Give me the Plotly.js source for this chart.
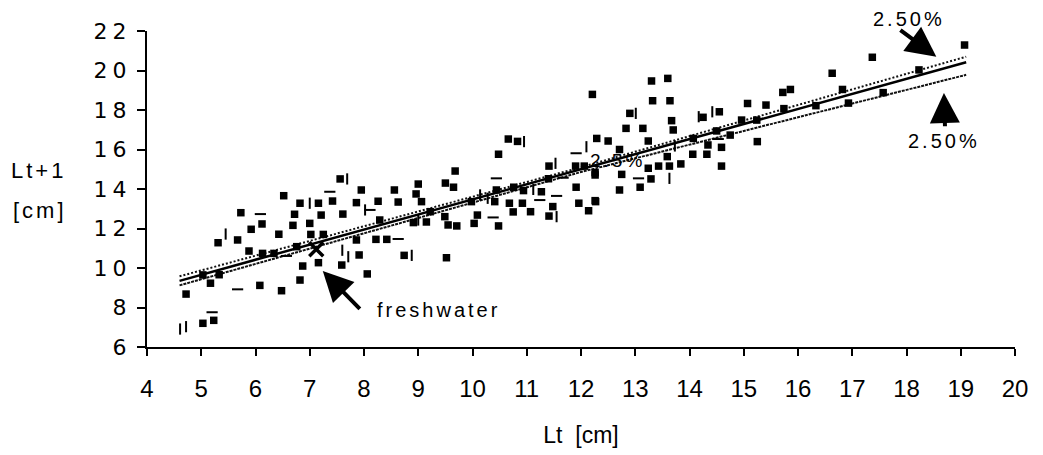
<!DOCTYPE html>
<html>
<head>
<meta charset="utf-8">
<script src="https://cdn.plot.ly/plotly-3.0.1.min.js"></script>
<style>
  html, body { margin: 0; padding: 0; background: #fff; }
  #chart { width: 1043px; height: 455px; }
  .ytick text { letter-spacing: 5px; }
  .annotation-text { letter-spacing: 3px; }
</style>
</head>
<body>
<div id="chart"></div>
<script>
// ---- data ----
const squareX = [6.52,5.73,6.12,5.92,5.31,5.67,5.88,6.13,6.34,6.43,6.69,6.72,5.03,5.33,5.17,4.72,6.08,6.48,5.03,5.23,6.76,
  7.56,9.00,7.95,8.56,8.96,7.42,7.16,6.82,7.86,8.26,8.63,9.06,7.21,7.61,8.29,9.15,7.00,7.02,7.25,7.86,8.22,8.42,7.91,8.74,9.52,6.87,6.82,8.06,
  10.66,10.83,10.48,9.68,11.41,11.90,12.06,12.26,11.40,9.65,10.44,10.76,10.94,11.27,11.91,9.98,10.41,10.68,10.92,11.96,12.26,11.07,11.48,10.75,10.09,9.49,9.71,10.03,10.48,11.41,12.14,
  13.30,13.60,13.32,13.64,12.21,12.90,15.07,12.83,13.14,13.67,13.70,14.25,14.55,14.96,12.29,12.50,13.24,14.07,14.50,14.75,12.71,14.34,14.59,14.06,14.32,13.59,13.84,13.43,13.63,14.59,13.24,12.75,13.29,12.26,12.71,13.09,12.27,
  17.37,16.63,16.82,15.72,15.86,15.41,15.74,16.33,16.93,17.57,15.24,15.25,19.07,18.23,9.50,9.22,9.55,8.91,7.16,7.59];
const squareY = [13.66,12.80,12.23,11.96,11.28,11.42,10.86,10.74,10.74,11.71,12.16,12.72,9.65,9.66,9.23,8.68,9.12,8.85,7.20,7.35,11.08,
  14.51,14.25,13.95,13.95,13.75,13.39,13.28,13.28,13.31,13.38,13.34,13.36,12.68,12.73,12.43,12.33,12.26,11.70,11.70,11.42,11.45,11.45,10.66,10.64,10.52,10.10,9.39,9.70,
  16.53,16.41,15.76,14.91,15.16,15.16,15.16,14.83,14.52,14.09,13.95,14.09,13.92,13.86,14.09,13.36,13.36,13.28,13.28,13.28,13.41,12.85,13.11,12.84,12.68,12.60,12.13,12.26,12.13,12.63,12.90,
  19.47,19.60,18.47,18.47,18.79,17.83,18.33,17.07,17.07,17.46,16.99,17.63,17.91,17.49,16.56,16.43,16.43,16.56,16.94,16.73,16.00,16.23,16.11,15.76,15.76,15.64,15.27,15.16,15.16,15.16,15.05,14.74,14.51,14.71,13.95,14.09,13.36,
  20.67,19.86,19.04,18.89,19.04,18.25,18.07,18.22,18.35,18.88,17.49,16.40,21.29,20.03,14.30,12.85,12.18,12.30,10.27,10.15];

const tickMarkX = [4.61,4.72,5.45,7.69,8.88,7.71,10.95,11.53,11.55,12.10,11.12,10.14,10.28,13.01,13.63,14.42,13.73,14.17,7.00,8.02,9.00,7.60];
const tickMarkY = [6.91,7.03,11.72,14.51,10.64,10.57,16.40,15.30,12.60,16.14,13.98,13.70,13.53,17.83,14.54,17.91,16.18,17.66,13.28,12.94,12.43,10.90];

const dashMarkX = [5.20,6.09,5.67,6.57,7.37,8.11,8.63,10.44,11.67,11.24,11.91,10.38,11.55,13.06,14.53];
const dashMarkY = [7.76,12.73,8.92,10.61,13.86,12.94,11.47,14.54,14.57,13.44,15.81,12.56,13.65,14.54,16.53];

const freshX = [7.12];
const freshY = [10.95];

const fitX = [4.6, 12.0, 19.1];
const fitY = [9.35, 15.0, 20.42];
const upperY = [9.58, 15.1, 20.70];
const lowerY = [9.12, 14.86, 19.78];

const xTickVals = [4,5,6,7,8,9,10,11,12,13,14,15,16,17,18,19,20];
const xTickText = ["4","5","6","7","8","9","10","11","12","13","14","15","16","17","18","19","20"];
const yTickVals = [6,8,10,12,14,16,18,20,22];
const yTickText = ["6","8","10","12","14","16","18","20","22"];

const traces = [
  {x: fitX, y: upperY, mode: 'lines', line: {color: '#111', width: 2, dash: '2px,2px'}, hoverinfo: 'skip'},
  {x: fitX, y: lowerY, mode: 'lines', line: {color: '#111', width: 2, dash: '3px,1px'}, hoverinfo: 'skip'},
  {x: fitX, y: fitY, mode: 'lines', line: {color: '#000', width: 2.5}, hoverinfo: 'skip'},
  {x: squareX, y: squareY, mode: 'markers', marker: {symbol: 'square', size: 7.5, color: '#000'}},
  {x: tickMarkX, y: tickMarkY, mode: 'markers', marker: {symbol: 'line-ns', size: 8, line: {color: '#000', width: 2}}},
  {x: dashMarkX, y: dashMarkY, mode: 'markers', marker: {symbol: 'line-ew', size: 8, line: {color: '#000', width: 2}}},
  {x: freshX, y: freshY, mode: 'markers', marker: {symbol: 'x-thin', size: 14, line: {color: '#000', width: 3.5}}}
];

const narrow = 'Liberation Sans Narrow, Liberation Sans, Arial, sans-serif';
const sans = 'Liberation Sans, Arial, sans-serif';
const labelFont = {family: sans, size: 20, color: '#000'};

const layout = {
  width: 1043, height: 455,
  margin: {l: 147, r: 28, t: 31, b: 108},
  paper_bgcolor: '#fff', plot_bgcolor: '#fff',
  showlegend: false,
  xaxis: {
    range: [4, 20], tickmode: 'array', tickvals: xTickVals, ticktext: xTickText,
    ticks: 'outside', ticklen: 7, tickwidth: 2, tickcolor: '#000',
    showline: true, linewidth: 2, linecolor: '#000', showgrid: false, zeroline: false,
    tickfont: {family: narrow, size: 24, color: '#000'}, ticklabelstandoff: 12, fixedrange: true,
    title: {text: 'Lt  [cm]', font: {family: narrow, size: 23, color: '#000'}, standoff: 26}
  },
  xaxis2: {
    range: [4, 20], overlaying: 'x', anchor: 'y', side: 'bottom', tickmode: 'array', tickvals: xTickVals,
    ticks: 'inside', ticklen: 7, tickwidth: 2, tickcolor: '#000',
    showticklabels: false, showline: false, showgrid: false, zeroline: false
  },
  yaxis: {
    range: [6, 22], tickmode: 'array', tickvals: yTickVals, ticktext: yTickText,
    ticks: 'outside', ticklen: 8, tickwidth: 2, tickcolor: '#000',
    showline: true, linewidth: 2, linecolor: '#000', showgrid: false, zeroline: false,
    tickfont: {family: 'DejaVu Sans, sans-serif', size: 22, color: '#000'}, ticklabelstandoff: 1, fixedrange: true
  },
  yaxis2: {
    range: [6, 22], overlaying: 'y', anchor: 'x', side: 'left', tickmode: 'array', tickvals: yTickVals,
    ticks: 'inside', ticklen: 8, tickwidth: 2, tickcolor: '#000',
    showticklabels: false, showline: false, showgrid: false, zeroline: false
  },
  annotations: [
    {xref: 'paper', yref: 'paper', x: -0.125, y: 0.5585, xanchor: 'center', yanchor: 'middle', text: 'Lt+1', showarrow: false,
     font: {family: sans, size: 22, color: '#000'}},
    {xref: 'paper', yref: 'paper', x: -0.1233, y: 0.4335, xanchor: 'center', yanchor: 'middle', text: '[cm]', showarrow: false,
     font: {family: sans, size: 22, color: '#000'}},
    {x: 7.24, y: 9.85, ax: 7.95, ay: 7.85, axref: 'x', ayref: 'y', text: '', showarrow: true,
     arrowhead: 2, arrowsize: 1.5, arrowwidth: 4, arrowcolor: '#000'},
    {x: 8.2, y: 7.87, xanchor: 'left', yanchor: 'middle', text: 'freshwater', showarrow: false,
     font: {family: sans, size: 20, color: '#000'}},
    {xref: 'paper', yref: 'paper', x: 0.878, y: 1.0364, xanchor: 'center', yanchor: 'middle', text: '2.50%', showarrow: false, font: labelFont},
    {x: 18.55, y: 20.7, ax: 17.86, ay: 22.1, axref: 'x', ayref: 'y', text: '', showarrow: true,
     arrowhead: 2, arrowsize: 1.5, arrowwidth: 4, arrowcolor: '#000'},
    {x: 18.69, y: 16.43, xanchor: 'center', yanchor: 'middle', text: '2.50%', showarrow: false, font: labelFont},
    {x: 18.69, y: 18.86, ax: 18.71, ay: 17.1, axref: 'x', ayref: 'y', text: '', showarrow: true,
     arrowhead: 2, arrowsize: 1.5, arrowwidth: 4, arrowcolor: '#000'},
    {x: 12.68, y: 15.45, text: '2.5%', showarrow: false,
     font: {family: sans, size: 19, color: '#000'}}
  ]
};

Plotly.newPlot('chart', traces, layout, {staticPlot: true, displayModeBar: false});
</script>
</body>
</html>
